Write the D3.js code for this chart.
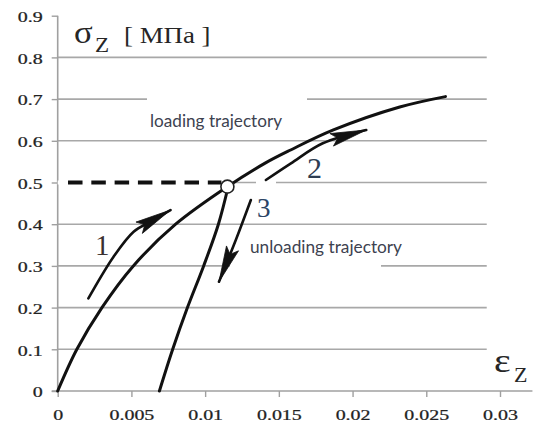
<!DOCTYPE html>
<html>
<head>
<meta charset="utf-8">
<script src="https://cdn.jsdelivr.net/npm/d3@7"></script>
<style>
  html, body { margin: 0; padding: 0; background: #fff; }
  svg { display: block; }
  .serif { font-family: "Liberation Serif", "DejaVu Serif", serif; }
  .sans { font-family: Lato, "Open Sans", sans-serif; }
</style>
</head>
<body>
<svg id="chart" width="535" height="428"></svg>
<script>
// ---- data (strain εz, stress σz in MPa) ----
const xTicks = [0, 0.005, 0.01, 0.015, 0.02, 0.025, 0.03];
const xTickLabels = ["0", "0.005", "0.01", "0.015", "0.02", "0.025", "0.03"];
const yTicks = [0, 0.1, 0.2, 0.3, 0.4, 0.5, 0.6, 0.7, 0.8, 0.9];
const yTickLabels = ["0", "0.1", "0.2", "0.3", "0.4", "0.5", "0.6", "0.7", "0.8", "0.9"];
const gridValues = [0.1, 0.2, 0.3, 0.4, 0.5, 0.6, 0.7, 0.8];

// loading curve
const loadingEps   = [0, 0.0013, 0.0030, 0.00513, 0.0080, 0.01151, 0.0141, 0.0158, 0.0187, 0.0232, 0.0263];
const loadingSigma = [0, 0.10,   0.20,   0.30,    0.40,   0.49,    0.547,  0.578,  0.626,  0.681,  0.706];
// unloading curve
const unloadEps    = [0.0069, 0.0078, 0.0088, 0.0099, 0.0109, 0.01155];
const unloadSigma  = [0,      0.10,   0.20,   0.30,   0.40,   0.488];
// yield point
const yieldEps = 0.01151, yieldSigma = 0.49;
const dashSigma = 0.5;
// direction arrows
const arrow1Eps = [0.00208, 0.00379, 0.00515, 0.00629, 0.00765];
const arrow1Sig = [0.222,   0.322,   0.382,   0.406,   0.434];
const arrow2Eps = [0.01412, 0.01582, 0.01798, 0.02093];
const arrow2Sig = [0.506,   0.546,   0.594,   0.626];
const arrow3Eps = [0.01310, 0.01208, 0.01094];
const arrow3Sig = [0.458,   0.362,   0.262];

const labels = {
  loading: "loading trajectory",
  unloading: "unloading trajectory",
  n1: "1", n2: "2", n3: "3"
};

// ---- scales ----
const x = d3.scaleLinear().domain([0, 0.03]).range([57.7, 500]);
const y = d3.scaleLinear().domain([0, 0.9]).range([391, 15.7]);

const svg = d3.select("#chart");

// ---- gridlines ----
svg.append("g").selectAll("line").data(gridValues).join("line")
  .attr("x1", x(0)).attr("x2", x(0.0291))
  .attr("y1", d => y(d)).attr("y2", d => y(d))
  .attr("stroke", "#a8a8a8").attr("stroke-width", 1.6);

// ---- white label boxes (hide parts of gridlines, as in original) ----
const boxes = [
  {x0: 147, x1: 307, y0: 94, y1: 137},
  {x0: 230, x1: 381, y0: 229, y1: 272},
  {x0: 256, x1: 276, y0: 178, y1: 220}
];
svg.append("g").selectAll("rect").data(boxes).join("rect")
  .attr("x", d => d.x0).attr("y", d => d.y0)
  .attr("width", d => d.x1 - d.x0).attr("height", d => d.y1 - d.y0)
  .attr("fill", "#fff");

// ---- axes ----
const xAxis = d3.axisBottom(x).tickValues(xTicks).tickSize(6).tickSizeOuter(0)
  .tickFormat((d, i) => xTickLabels[i]);
const gx = svg.append("g").attr("transform", `translate(0,${y(0)})`).call(xAxis)
  .attr("font-family", null).attr("font-size", null);
gx.select(".domain").remove();
gx.append("line").attr("x1", x(0) - 6).attr("x2", x(0.0322))
  .attr("stroke", "#a0a0a0").attr("stroke-width", 1.6);
gx.selectAll(".tick line").attr("stroke", "#a0a0a0").attr("stroke-width", 1.4);
gx.selectAll(".tick text")
  .attr("class", "serif")
  .attr("y", 0).attr("dy", 0)
  .attr("transform", "translate(0,29) scale(1.33,1)")
  .style("font-size", "15px").attr("fill", "#222")
  .attr("stroke", "#222").attr("stroke-width", 0.25);

const yAxis = d3.axisLeft(y).tickValues(yTicks).tickSize(6).tickSizeOuter(0)
  .tickFormat((d, i) => yTickLabels[i]);
const gy = svg.append("g").attr("transform", `translate(${x(0)},0)`).call(yAxis)
  .attr("font-family", null).attr("font-size", null);
gy.select(".domain").remove();
gy.append("line").attr("y1", y(0.9)).attr("y2", y(0))
  .attr("stroke", "#a0a0a0").attr("stroke-width", 1.6);
gy.selectAll(".tick line").attr("stroke", "#a0a0a0").attr("stroke-width", 1.4);
gy.selectAll(".tick text")
  .attr("class", "serif")
  .attr("x", 0).attr("dy", "0.38em")
  .attr("transform", "translate(-15,0) scale(1.33,1)")
  .style("font-size", "15px").attr("fill", "#222")
  .attr("stroke", "#222").attr("stroke-width", 0.25);

// ---- dashed 0.5 line ----
svg.append("line")
  .attr("x1", x(0)).attr("x2", x(yieldEps) - 4)
  .attr("y1", y(dashSigma)).attr("y2", y(dashSigma))
  .attr("stroke", "#fff").attr("stroke-width", 4);
svg.append("line")
  .attr("x1", x(0.0007)).attr("x2", x(yieldEps) - 6)
  .attr("y1", y(dashSigma)).attr("y2", y(dashSigma))
  .attr("stroke", "#111").attr("stroke-width", 4)
  .attr("stroke-dasharray", "14.5,8.8");

// ---- curves ----
const line = d3.line().x(d => x(d[0])).y(d => y(d[1])).curve(d3.curveCatmullRom.alpha(0.5));
const zip = (a, b) => a.map((v, i) => [v, b[i]]);

svg.append("path").attr("d", line(zip(loadingEps, loadingSigma)))
  .attr("fill", "none").attr("stroke", "#111").attr("stroke-width", 3).attr("stroke-linecap", "round");
svg.append("path").attr("d", line(zip(unloadEps, unloadSigma)))
  .attr("fill", "none").attr("stroke", "#111").attr("stroke-width", 3).attr("stroke-linecap", "round");

// ---- arrows ----
function arrow(eps, sig, len, hw) {
  const p = svg.append("path").attr("d", line(zip(eps, sig)))
    .attr("fill", "none").attr("stroke", "#111").attr("stroke-width", 2.6).attr("stroke-linecap", "round");
  const node = p.node();
  const L = node.getTotalLength();
  const tip = node.getPointAtLength(L);
  const back = node.getPointAtLength(L - len);
  const dx = tip.x - back.x, dy = tip.y - back.y;
  const m = Math.hypot(dx, dy);
  const ux = dx / m, uy = dy / m, px = -uy, py = ux;
  const notch = {x: back.x + ux * len * 0.18, y: back.y + uy * len * 0.18};
  const pts = [
    [tip.x, tip.y],
    [back.x + px * hw, back.y + py * hw],
    [notch.x, notch.y],
    [back.x - px * hw, back.y - py * hw]
  ];
  svg.append("path").attr("d", "M" + pts.map(q => q.join(",")).join("L") + "Z")
    .attr("fill", "#111").attr("stroke", "#111").attr("stroke-width", 0.8).attr("stroke-linejoin", "round");
}
arrow(arrow1Eps, arrow1Sig, 36, 6.5);
arrow(arrow2Eps, arrow2Sig, 36, 6.5);
arrow(arrow3Eps, arrow3Sig, 36, 6.5);

// ---- yield point circle ----
svg.append("circle").attr("cx", x(yieldEps)).attr("cy", y(yieldSigma)).attr("r", 6.5)
  .attr("fill", "#fff").attr("stroke", "#222").attr("stroke-width", 1.6);

// ---- text labels ----
svg.append("text").attr("class", "sans").attr("x", 150).attr("y", 127)
  .style("font-size", "17px").attr("fill", "#3d4250")
  .attr("textLength", 132).attr("lengthAdjust", "spacingAndGlyphs")
  .text(labels.loading);
svg.append("text").attr("class", "sans").attr("x", 250).attr("y", 253)
  .style("font-size", "17px").attr("fill", "#3d4250")
  .attr("textLength", 152).attr("lengthAdjust", "spacingAndGlyphs")
  .text(labels.unloading);

svg.append("text").attr("class", "serif").attr("x", 95).attr("y", 255)
  .style("font-size", "29px").attr("fill", "#3a3030")
  .text(labels.n1);
svg.append("text").attr("class", "serif").attr("x", 307).attr("y", 178)
  .style("font-size", "30px").attr("fill", "#2e3d52")
  .text(labels.n2);
svg.append("text").attr("class", "serif").attr("x", 257).attr("y", 217)
  .style("font-size", "27px").attr("fill", "#2c4566")
  .text(labels.n3);

// axis titles
svg.append("text").attr("class", "serif").attr("transform", "translate(74,43) scale(1.12,1)")
  .style("font-size", "31px").attr("fill", "#262626").text("σ");
svg.append("text").attr("class", "serif").attr("transform", "translate(95,52) scale(1.05,1)")
  .style("font-size", "22px").attr("fill", "#262626").text("Z");
svg.append("text").attr("class", "serif").attr("transform", "translate(124,43) scale(1.12,1)")
  .style("font-size", "24px").attr("fill", "#262626").text("[ MПa ]");

svg.append("text").attr("class", "serif").attr("transform", "translate(494,372) scale(1.2,1)")
  .style("font-size", "33px").attr("fill", "#262626").text("ε");
svg.append("text").attr("class", "serif").attr("transform", "translate(514,382)")
  .style("font-size", "22px").attr("fill", "#262626").text("Z");
</script>
</body>
</html>
